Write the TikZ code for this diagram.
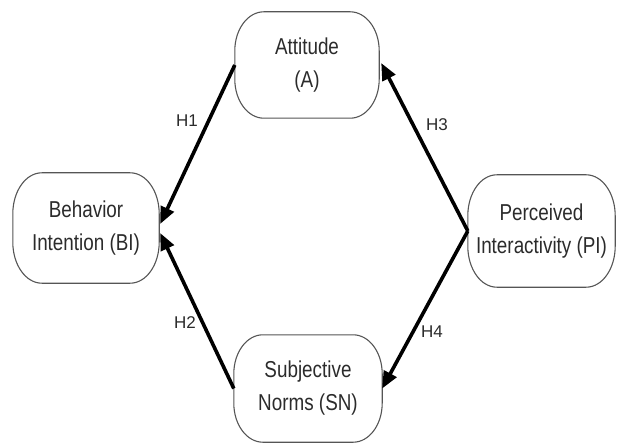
\documentclass[tikz,border=0pt]{standalone}
\usepackage{fontspec}
\setmainfont{Liberation Sans}[FakeStretch=0.82]
\newfontfamily\labelfont{Liberation Sans}
\usetikzlibrary{arrows.meta}
\definecolor{txt}{HTML}{2B2B2B}
\definecolor{edge}{HTML}{555555}
\tikzset{
  construct/.style={draw=none, rectangle, inner sep=0pt, align=center, text=txt,
    font=\fontsize{23}{33}\selectfont},
  boxline/.style={draw=edge, line width=1.1pt},
  hyp/.style={draw=black, line width=3.6pt,
    -{Triangle[length=17pt,width=14pt]}},
  hlabel/.style={text=txt, font=\labelfont\fontsize{17}{20}\selectfont, inner sep=0pt}
}
% rounded box with elliptical corners around a named node
\newcommand\ellbox[3]{%
  \draw[boxline] ([xshift=#2]#1.north west) -- ([xshift=-#2]#1.north east)
    arc[start angle=90, end angle=0, x radius=#2, y radius=#3]
    -- ([yshift=#3]#1.south east)
    arc[start angle=0, end angle=-90, x radius=#2, y radius=#3]
    -- ([xshift=#2]#1.south west)
    arc[start angle=270, end angle=180, x radius=#2, y radius=#3]
    -- ([yshift=-#3]#1.north west)
    arc[start angle=180, end angle=90, x radius=#2, y radius=#3]
    -- cycle;}
\begin{document}
\begin{tikzpicture}[x=1pt,y=-1pt]
\useasboundingbox (0,0) rectangle (617,443);
\node[construct, minimum width=144pt, minimum height=106pt] (A) at (307,65) {Attitude\\(A)};
\node[construct, minimum width=146pt, minimum height=110pt] (BI) at (86,228) {Behavior\\Intention (BI)};
\node[construct, minimum width=147pt, minimum height=112pt] (PI) at (541.5,231) {Perceived\\Interactivity (PI)};
\node[construct, minimum width=148pt, minimum height=107pt] (SN) at (308,388.5) {Subjective\\Norms (SN)};
\ellbox{A}{29pt}{39pt}
\ellbox{BI}{29pt}{41pt}
\ellbox{PI}{29pt}{41pt}
\ellbox{SN}{29pt}{39pt}
\draw[hyp] (A.west) -- ([yshift=4pt,xshift=1pt]BI.east);
\draw[hyp] (SN.west) -- ([yshift=-5pt,xshift=1pt]BI.east);
\draw[hyp] (PI.west) -- ([xshift=2pt,yshift=2pt]A.east);
\draw[hyp] (PI.west) -- (SN.east);
\node[hlabel] (h1) at (187,121) {H1};
\node[hlabel] (h2) at (185,323) {H2};
\node[hlabel] (h3) at (437,125) {H3};
\node[hlabel] (h4) at (432,332) {H4};
\end{tikzpicture}
\end{document}
